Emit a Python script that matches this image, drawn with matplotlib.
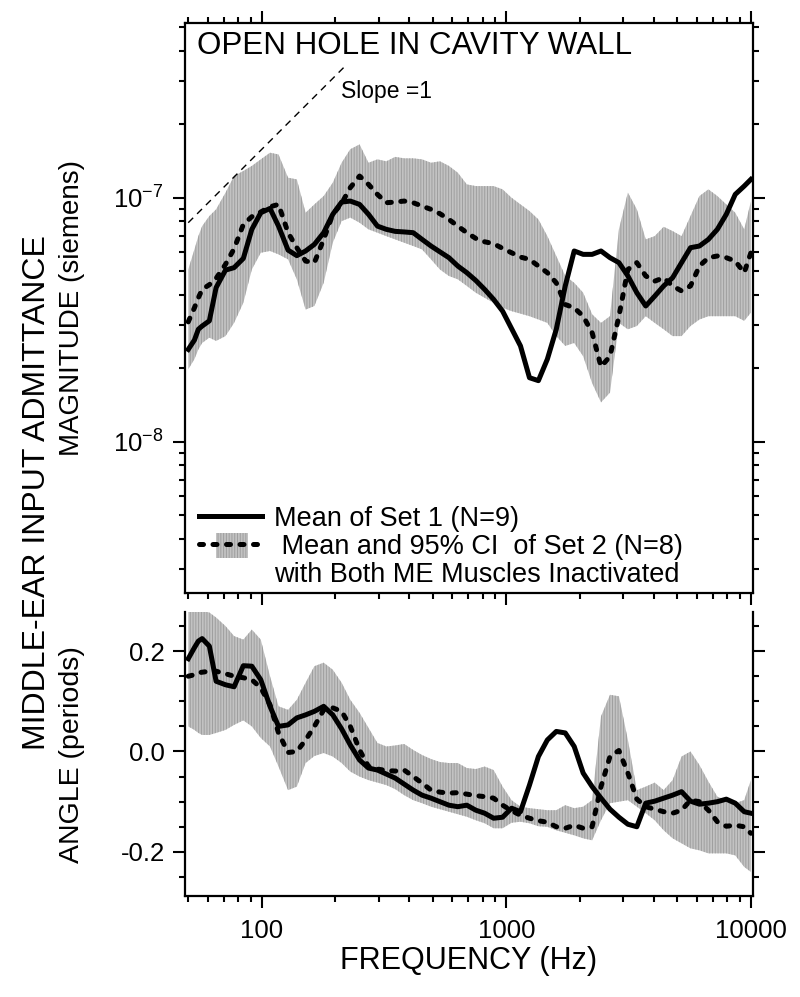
import matplotlib
matplotlib.use("Agg")
import matplotlib.pyplot as plt
import matplotlib.ticker as mticker
import matplotlib.patches as mpatches
from matplotlib.lines import Line2D
from matplotlib.legend_handler import HandlerTuple, HandlerPatch
import numpy as np

plt.rcParams['font.family'] = ['Liberation Sans', 'DejaVu Sans']
plt.rcParams['mathtext.fontset'] = 'custom'
plt.rcParams['mathtext.rm'] = 'Liberation Sans'
plt.rcParams['mathtext.it'] = 'Liberation Sans:italic'
plt.rcParams['mathtext.default'] = 'regular'
plt.rcParams['axes.unicode_minus'] = False
plt.rcParams['hatch.linewidth'] = 0.7

# frequency grid (Hz) shared by all curves
FREQ = [50, 53, 55, 57, 61, 65, 71, 77, 84, 91, 99, 108, 117, 128, 139, 151, 164, 179, 195, 212,
        230, 251, 273, 297, 323, 351, 382, 416, 452, 492, 535, 582, 633, 689, 750, 815, 887, 965,
        1050, 1142, 1243, 1352, 1471, 1600, 1741, 1894, 2061, 2242, 2438, 2653, 2886, 3140, 3416,
        3715, 4042, 4398, 4785, 5205, 5662, 6160, 6702, 7291, 7932, 8630, 9389, 10000]

# magnitude, units of 1e-8 siemens
MAG_SET1 = [2.39, 2.61, 2.89, 2.98, 3.13, 4.28, 5.05, 5.17, 5.64, 7.42, 8.68, 9.04, 7.65, 6.10, 5.79,
            6.05, 6.44, 7.19, 8.55, 9.60, 9.69, 9.39, 8.55, 7.65, 7.42, 7.28, 7.24, 7.19, 6.75, 6.34,
            6.00, 5.68, 5.25, 4.93, 4.58, 4.21, 3.83, 3.43, 2.91, 2.47, 1.83, 1.78, 2.18, 2.89, 4.35,
            6.05, 5.86, 5.86, 6.05, 5.68, 5.42, 4.78, 4.08, 3.60, 3.95, 4.35, 4.70, 5.42, 6.24, 6.34,
            6.75, 7.42, 8.55, 10.32, 11.16, 11.89]
MAG_SET2 = [3.10, 3.54, 3.89, 4.21, 4.40, 4.67, 5.33, 6.18, 7.77, 8.36, 8.74, 9.18, 9.39, 7.19, 6.24,
            5.50, 5.42, 6.75, 8.55, 9.48, 11.0, 12.27, 11.34, 10.32, 9.54, 9.60, 9.69, 9.54, 9.24, 8.96,
            8.60, 8.15, 7.65, 7.19, 6.81, 6.60, 6.48, 6.20, 5.95, 5.71, 5.59, 5.25, 4.93, 4.48, 3.65,
            3.54, 3.27, 2.80, 2.03, 2.24, 3.27, 5.08, 5.42, 4.78, 4.55, 4.70, 4.35, 4.15, 4.35, 5.25,
            5.68, 5.77, 5.68, 5.50, 4.93, 5.95]
MAG_CI_HI = [5.08, 6.14, 6.96, 7.65, 8.41, 8.96, 10.48, 12.27, 12.87, 13.5, 14.36, 15.29, 15.04, 12.08,
             11.89, 8.68, 9.39, 10.16, 11.52, 13.91, 15.8, 16.54, 13.91, 14.36, 14.1, 14.7, 14.5, 14.5,
             14.36, 13.91, 14.1, 13.5, 12.66, 11.34, 11.16, 11.16, 11.16, 10.82, 10.0, 9.39, 8.82, 8.15,
             6.96, 5.77, 4.78, 4.48, 4.08, 3.33, 3.07, 3.27, 7.42, 10.5, 8.96, 6.75, 6.96, 7.6, 7.3,
             6.96, 8.41, 10.16, 10.82, 10.16, 9.39, 8.68, 7.42, 9.66]
MAG_CI_LO = [1.98, 2.18, 2.39, 2.54, 2.67, 2.59, 2.71, 3.07, 3.71, 5.08, 5.95, 6.05, 5.86, 5.59, 4.63,
             3.48, 3.60, 4.48, 6.54, 8.02, 8.29, 7.90, 7.42, 7.19, 6.96, 6.75, 6.54, 6.34, 6.14, 5.59,
             5.08, 4.78, 4.63, 4.35, 4.08, 3.89, 3.71, 3.54, 3.43, 3.35, 3.27, 3.17, 3.07, 2.71, 2.47,
             2.54, 2.24, 1.74, 1.45, 1.59, 3.07, 2.89, 2.98, 3.27, 3.07, 2.89, 2.71, 2.71, 2.98, 3.17,
             3.27, 3.27, 3.27, 3.27, 3.13, 3.38]

# angle, periods
ANG_SET1 = [0.185, 0.207, 0.220, 0.225, 0.210, 0.140, 0.133, 0.129, 0.171, 0.170, 0.143, 0.090, 0.050,
            0.053, 0.067, 0.073, 0.080, 0.090, 0.073, 0.045, 0.013, -0.017, -0.033, -0.037, -0.045,
            -0.053, -0.065, -0.077, -0.087, -0.093, -0.100, -0.107, -0.110, -0.107, -0.117, -0.123,
            -0.133, -0.131, -0.113, -0.120, -0.067, -0.010, 0.023, 0.040, 0.037, 0.010, -0.043, -0.070,
            -0.093, -0.115, -0.131, -0.145, -0.150, -0.103, -0.099, -0.093, -0.087, -0.080, -0.099,
            -0.105, -0.103, -0.100, -0.095, -0.103, -0.120, -0.123]
ANG_SET2 = [0.150, 0.153, 0.157, 0.158, 0.160, 0.160, 0.155, 0.150, 0.147, 0.143, 0.127, 0.093, 0.037,
            -0.002, 0.000, 0.023, 0.050, 0.083, 0.087, 0.080, 0.050, 0.003, -0.030, -0.035, -0.038,
            -0.039, -0.037, -0.050, -0.063, -0.077, -0.081, -0.083, -0.082, -0.085, -0.088, -0.090,
            -0.093, -0.107, -0.118, -0.127, -0.133, -0.138, -0.141, -0.150, -0.153, -0.147, -0.153,
            -0.150, -0.070, -0.010, 0.002, -0.043, -0.095, -0.110, -0.115, -0.120, -0.123, -0.117,
            -0.097, -0.100, -0.117, -0.140, -0.149, -0.147, -0.150, -0.163]
ANG_CI_HI = [0.280, 0.280, 0.280, 0.280, 0.277, 0.267, 0.250, 0.230, 0.223, 0.243, 0.223, 0.150, 0.090,
             0.083, 0.103, 0.137, 0.170, 0.177, 0.163, 0.137, 0.103, 0.077, 0.047, 0.017, 0.010, 0.012,
             0.015, 0.003, -0.007, -0.015, -0.021, -0.023, -0.023, -0.033, -0.035, -0.030, -0.037,
             -0.070, -0.097, -0.110, -0.113, -0.115, -0.117, -0.117, -0.107, -0.113, -0.110, -0.097,
             0.070, 0.113, 0.110, 0.023, -0.077, -0.070, -0.062, -0.077, -0.057, -0.010, 0.000, -0.027,
             -0.060, -0.090, -0.097, -0.103, -0.097, -0.057]
ANG_CI_LO = [0.050, 0.043, 0.037, 0.033, 0.033, 0.037, 0.043, 0.053, 0.062, 0.050, 0.027, 0.010, -0.030,
             -0.077, -0.070, -0.023, -0.009, -0.003, -0.010, -0.023, -0.040, -0.050, -0.057, -0.062,
             -0.067, -0.075, -0.087, -0.097, -0.103, -0.110, -0.115, -0.120, -0.125, -0.130, -0.137,
             -0.143, -0.153, -0.153, -0.142, -0.140, -0.143, -0.149, -0.150, -0.157, -0.162, -0.167,
             -0.173, -0.177, -0.137, -0.103, -0.100, -0.097, -0.110, -0.123, -0.137, -0.157, -0.173,
             -0.183, -0.193, -0.197, -0.203, -0.203, -0.203, -0.207, -0.230, -0.240]

# slope = 1 reference line
SLOPE_F = [50, 217]
SLOPE_Y = [7.9e-8, 3.43e-7]

XTICKS = [100, 1000, 10000]
XTICK_LABELS = ['100', '1000', '10000']
ANG_TICKS = [-0.2, 0.0, 0.2]
ANG_TICK_LABELS = ['-0.2', '0.0', '0.2']

LABEL_SET1 = 'Mean of Set 1 (N=9)'
LABEL_SET2 = ' Mean and 95% CI  of Set 2 (N=8)'
LABEL_SET2_B = 'with Both ME Muscles Inactivated'

BAND_FACE = '#c2c2c2'
BAND_HATCH = '#9e9e9e'
LW = 3.6
DASH = (0, (0.8, 1.9))

fig = plt.figure(figsize=(8, 9.97), dpi=100)
ax1 = fig.add_axes([0.23125, 0.40522, 0.71, 0.57171])
ax2 = fig.add_axes([0.23125, 0.10130, 0.71, 0.28485])

f = np.array(FREQ)
s = 1e-8

# magnitude panel
ax1.fill_between(f, np.array(MAG_CI_LO) * s, np.array(MAG_CI_HI) * s, facecolor=BAND_FACE,
                 edgecolor=BAND_HATCH, hatch='||||||', linewidth=0)
ax1.plot(f, np.array(MAG_SET2) * s, color='black', lw=LW, linestyle=DASH, dash_capstyle='round')
ax1.plot(f, np.array(MAG_SET1) * s, color='black', lw=LW, solid_joinstyle='round')
ax1.plot(SLOPE_F, SLOPE_Y, color='black', lw=1.0, linestyle=(0, (5, 4)))
ax1.set_xscale('log')
ax1.set_yscale('log')
ax1.set_xlim(48.5, 10200)
ax1.set_ylim(2.4e-9, 5.2e-7)
ax1.text(0.021, 0.9456, 'OPEN HOLE IN CAVITY WALL', transform=ax1.transAxes, fontsize=22.6,
         va='baseline', ha='left')
ax1.text(0.2746, 0.868, 'Slope =1', transform=ax1.transAxes, fontsize=16.5, va='baseline', ha='left')

# angle panel
ax2.fill_between(f, ANG_CI_LO, ANG_CI_HI, facecolor=BAND_FACE, edgecolor=BAND_HATCH,
                 hatch='||||||', linewidth=0)
ax2.plot(f, ANG_SET2, color='black', lw=LW, linestyle=DASH, dash_capstyle='round')
ax2.plot(f, ANG_SET1, color='black', lw=LW, solid_joinstyle='round')
ax2.set_xscale('log')
ax2.set_xlim(48.5, 10200)
ax2.set_ylim(-0.288, 0.278)
ax2.spines['top'].set_visible(False)

for ax in (ax1, ax2):
    for sp in ax.spines.values():
        sp.set_linewidth(1.6)
    ax.xaxis.set_major_locator(mticker.FixedLocator(XTICKS))
    ax.xaxis.set_minor_locator(mticker.LogLocator(base=10, subs=np.arange(2, 10)))
    ax.xaxis.set_minor_formatter(mticker.NullFormatter())
    ax.tick_params(which='both', direction='out', right=True, width=1.5, labelsize=18.5, pad=6)
    ax.tick_params(which='major', length=8.5)
    ax.tick_params(which='minor', length=4.5)

ax1.tick_params(axis='x', which='both', top=True, labelbottom=False)
ax1.yaxis.set_minor_formatter(mticker.NullFormatter())
ax1.tick_params(axis='y', pad=7)

ax2.tick_params(axis='x', which='both', top=False)
ax2.xaxis.set_major_formatter(mticker.FixedFormatter(XTICK_LABELS))
ax2.yaxis.set_major_locator(mticker.FixedLocator(ANG_TICKS))
ax2.yaxis.set_major_formatter(mticker.FixedFormatter(ANG_TICK_LABELS))
ax2.yaxis.set_minor_locator(mticker.MultipleLocator(0.05))
ax2.tick_params(axis='x', pad=8)
ax2.set_xlabel('FREQUENCY (Hz)', fontsize=22, labelpad=2)

fig.text(0.046, 0.506, 'MIDDLE-EAR INPUT ADMITTANCE', rotation=90, fontsize=23,
         ha='center', va='center')
fig.text(0.09, 0.691, 'MAGNITUDE (siemens)', rotation=90, fontsize=20, ha='center', va='center')
fig.text(0.09, 0.243, 'ANGLE (periods)', rotation=90, fontsize=20.5, ha='center', va='center')


# legend: narrow CI swatch behind the dashed key
def ci_swatch(legend, orig_handle, xdescent, ydescent, width, height, fontsize):
    return mpatches.Rectangle((-xdescent + 0.27 * width, -ydescent + height / 2 - 0.5 * fontsize),
                              0.5 * width, 0.92 * fontsize)


key1 = Line2D([], [], color='black', lw=LW)
key_band = mpatches.Patch(facecolor=BAND_FACE, edgecolor=BAND_HATCH, hatch='||||||', linewidth=0)
key2 = Line2D([], [], color='black', lw=LW, linestyle=DASH, dash_capstyle='round')
key_blank = Line2D([], [], linestyle='none')
ax1.legend([key1, (key_band, key2), key_blank], [LABEL_SET1, LABEL_SET2, LABEL_SET2_B],
           handler_map={tuple: HandlerTuple(ndivide=1), mpatches.Patch: HandlerPatch(patch_func=ci_swatch)},
           loc='upper left', bbox_to_anchor=(0.0246, 0.153), frameon=False, fontsize=19.5,
           handlelength=2.33, handletextpad=0.44, labelspacing=0.07, borderpad=0, borderaxespad=0)

fig.savefig('out.png', dpi=100)
